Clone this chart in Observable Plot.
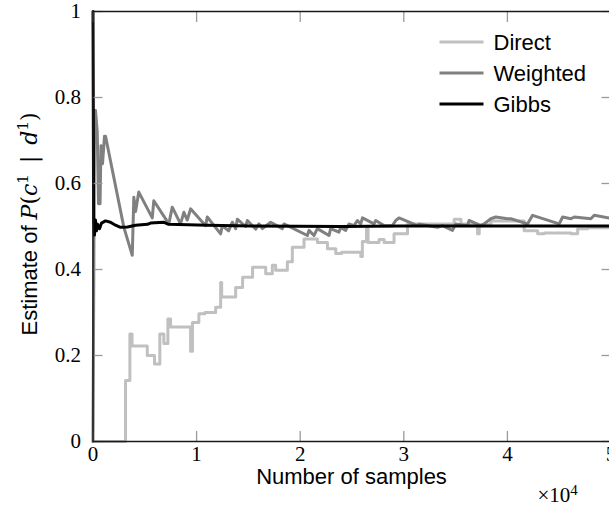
<!DOCTYPE html>
<html><head><meta charset="utf-8">
<script src="https://cdn.jsdelivr.net/npm/d3@7"></script>
<script src="https://cdn.jsdelivr.net/npm/@observablehq/plot@0.6"></script>
<style>
html,body{margin:0;padding:0;overflow:hidden;background:#fff;}
</style></head><body><div id="chart"></div>
<script>
// ---- data ----
const seriesNames = ["Direct", "Weighted", "Gibbs"];
const seriesColors = ["#c0c0c0", "#808080", "#000000"];

const directX = [0,3140,3560,3770,5240,5940,6450,6840,7230,7490,9420,9600,10220,10800,11840,12320,12420,13770,14440,15400,16670,17310,17630,18760,19240,20370,21660,22630,23430,24000,25850,26000,26400,26550,27610,28100,29060,30360,34860,35510,37120,37280,38410,41620,42920,43560,46140,46780,47750,50000];
const directY = [0,0.142,0.25,0.222,0.20,0.18,0.25,0.228,0.285,0.266,0.21,0.277,0.297,0.30,0.312,0.37,0.336,0.358,0.382,0.405,0.39,0.41,0.398,0.418,0.452,0.471,0.463,0.448,0.437,0.44,0.43,0.465,0.496,0.463,0.47,0.463,0.483,0.506,0.517,0.506,0.483,0.504,0.513,0.49,0.483,0.485,0.483,0.495,0.497,0.497];

const weightedX = [0,150,240,410,530,680,770,920,1110,1210,2980,3790,3940,4110,4420,5720,5870,7320,7650,8450,8770,9100,9420,10870,11030,12320,12480,13090,13450,13770,13930,14730,14900,15700,16020,16350,17150,18280,18430,20690,20850,21330,21660,22780,22940,23740,23910,24390,24710,25190,25520,25840,26010,27130,27290,28090,28900,29220,29540,31320,31470,33250,33730,34700,35020,36150,36300,37430,37750,38400,38880,40010,40330,41940,42430,45000,45330,46130,46450,48060,48380,50000];
const weightedY = [0,0.77,0.77,0.72,0.553,0.553,0.688,0.646,0.71,0.71,0.498,0.433,0.568,0.535,0.58,0.52,0.56,0.506,0.545,0.506,0.533,0.515,0.541,0.502,0.522,0.483,0.502,0.49,0.51,0.495,0.517,0.50,0.514,0.494,0.506,0.495,0.51,0.495,0.506,0.479,0.491,0.479,0.495,0.479,0.495,0.487,0.498,0.491,0.506,0.502,0.514,0.506,0.52,0.506,0.514,0.502,0.502,0.514,0.52,0.502,0.506,0.498,0.502,0.491,0.506,0.502,0.514,0.502,0.506,0.518,0.522,0.518,0.518,0.506,0.526,0.506,0.522,0.518,0.522,0.518,0.526,0.519];

const gibbsX = [0,60,140,240,340,440,630,820,1210,1690,2170,2660,3330,4110,5260,5550,6810,7290,11060,15210,23900,29700,50000];
const gibbsY = [1.0,0.52,0.48,0.515,0.49,0.505,0.495,0.508,0.513,0.51,0.503,0.498,0.499,0.503,0.505,0.508,0.51,0.505,0.503,0.501,0.50,0.501,0.501];

const xTicks = [0, 10000, 20000, 30000, 40000, 50000];
const xTickLabels = ["0", "1", "2", "3", "4", "5"];
const yTicks = [0, 0.2, 0.4, 0.6, 0.8, 1];
const yTickLabels = ["0", "0.2", "0.4", "0.6", "0.8", "1"];

const xTitle = "Number of samples";
const yTitleText = "Estimate of ";

// ---- tables ----
const rows = (xs, ys) => xs.map((x, i) => ({x, y: ys[i]}));
const directRows = rows(directX, directY);
const weightedRows = rows(weightedX, weightedY);
const gibbsRows = rows(gibbsX, gibbsY);

// ---- layout ----
const W = 609, H = 515;
const mL = 92.5, mT = 11, mB = 74, mR = -1.5;
const serif = "'Liberation Serif', 'Times New Roman', serif";
const mathSerif = "'DejaVu Serif', 'Liberation Serif', serif";
const sans = "'Liberation Sans', Arial, Helvetica, sans-serif";
const tickColor = "#9a9a9a";

const plot = Plot.plot({
  width: W, height: H,
  marginLeft: mL, marginTop: mT, marginBottom: mB, marginRight: mR,
  x: {domain: [0, 50000]},
  y: {domain: [0, 1]},
  style: {fontFamily: serif, fontSize: "21px", color: "#000", background: "#fff", overflow: "visible"},
  marks: [
    Plot.line(directRows, {x: "x", y: "y", stroke: seriesColors[0], strokeWidth: 3, curve: "step-after"}),
    Plot.line(weightedRows, {x: "x", y: "y", stroke: seriesColors[1], strokeWidth: 3}),
    Plot.line(gibbsRows, {x: "x", y: "y", stroke: seriesColors[2], strokeWidth: 3}),
    // inward ticks on all four sides
    Plot.axisX(xTicks, {anchor: "bottom", tickSize: -10, stroke: tickColor, strokeWidth: 1.3, fill: "none", label: null}),
    Plot.axisX(xTicks, {anchor: "top", tickSize: -10, stroke: tickColor, strokeWidth: 1.3, fill: "none", label: null}),
    Plot.axisY(yTicks, {anchor: "left", tickSize: -10, stroke: tickColor, strokeWidth: 1.3, fill: "none", label: null}),
    Plot.axisY(yTicks, {anchor: "right", tickSize: -10, stroke: tickColor, strokeWidth: 1.3, fill: "none", label: null}),
    // tick labels
    Plot.axisX(xTicks, {anchor: "bottom", tickSize: 0, tickPadding: 5, label: null,
      tickFormat: d => xTickLabels[xTicks.indexOf(d)], fontSize: 21, fill: "#000"}),
    Plot.axisY(yTicks, {anchor: "left", tickSize: 0, tickPadding: 12, label: null,
      tickFormat: d => yTickLabels[yTicks.indexOf(d)], fontSize: 21, fill: "#000"}),
    Plot.frame({stroke: "#1a1a1a", strokeWidth: 1.5})
  ]
});

document.getElementById("chart").appendChild(plot);

// ---- titles & legend ----
const svg = d3.select(plot);
const frameL = mL, frameR = W - mR, frameT = mT, frameB = H - mB;
const cx = (frameL + frameR) / 2;

svg.append("text")
  .attr("x", cx).attr("y", frameB + 43)
  .attr("text-anchor", "middle")
  .style("font-family", sans).style("font-size", "22px").attr("fill", "#000")
  .text(xTitle);

const sc = svg.append("text")
  .attr("x", frameR - 73).attr("y", frameB + 61)
  .attr("text-anchor", "start")
  .style("font-family", serif).style("font-size", "21px").attr("fill", "#000");
sc.append("tspan").text("×10");
sc.append("tspan").attr("dy", "-0.45em").style("font-size", "15px").text("4");

// y title with math
const yt = svg.append("text")
  .attr("transform", `translate(37, ${(frameT + frameB) / 2 - 2}) rotate(-90)`)
  .attr("text-anchor", "middle")
  .style("font-size", "22px").attr("fill", "#000");
const ms = (t) => yt.append("tspan").style("font-family", mathSerif).style("font-size", "22px").text(t);
yt.append("tspan").style("font-family", sans).text(yTitleText);
ms("P").style("font-style", "italic");
ms("(");
ms("c").style("font-style", "italic");
ms("1").style("font-size", "15px").attr("dy", "-0.6em");
ms("\u2002|\u2002").attr("dy", "0.41em");
ms("d").style("font-style", "italic");
ms("1").style("font-size", "15px").attr("dy", "-0.6em");
ms(")").attr("dy", "0.41em");

// legend
const lg = svg.append("g");
seriesNames.forEach((name, i) => {
  const y = frameT + 31 + i * 31;
  lg.append("line")
    .attr("x1", frameR - 171).attr("x2", frameR - 127)
    .attr("y1", y).attr("y2", y)
    .attr("stroke", seriesColors[i]).attr("stroke-width", 3);
  lg.append("text")
    .attr("x", frameR - 117).attr("y", y).attr("dy", "0.36em")
    .attr("text-anchor", "start")
    .style("font-family", sans).style("font-size", "22px").attr("fill", "#000")
    .text(name);
});
</script></body></html>
